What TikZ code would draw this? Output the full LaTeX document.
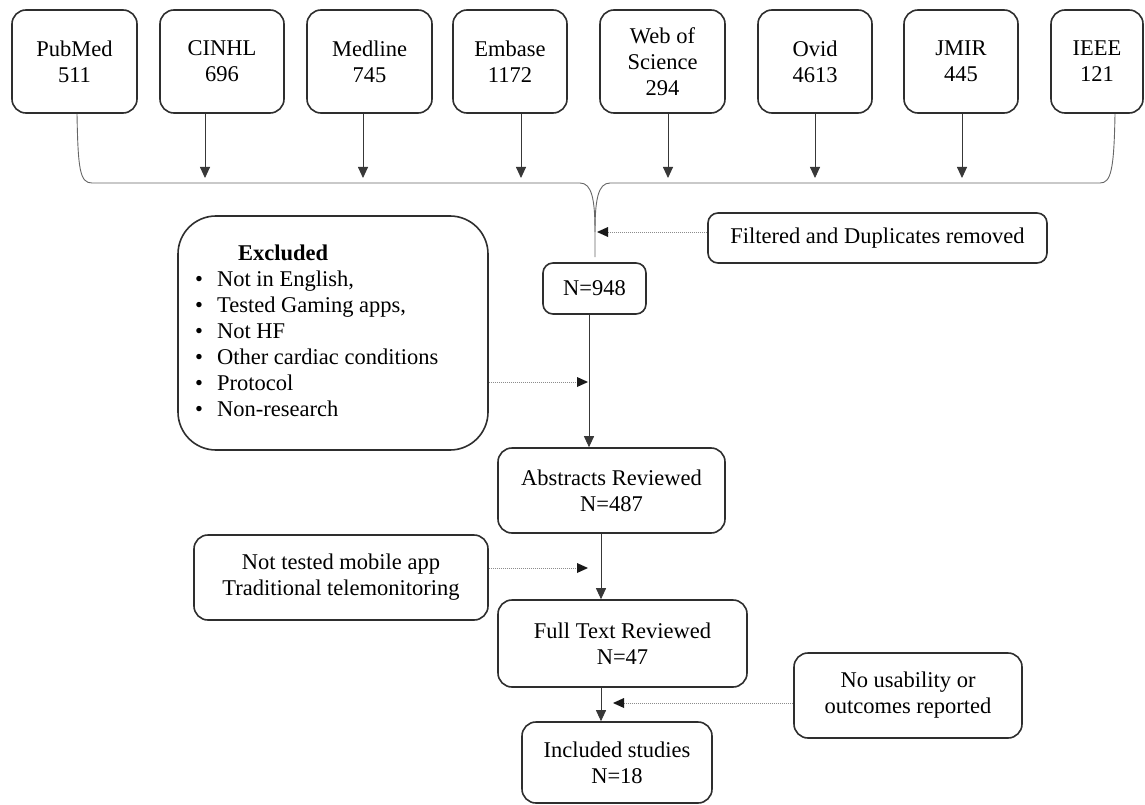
\documentclass[tikz,border=0pt]{standalone}
\usepackage{fontspec}
\setmainfont{Liberation Serif}
\usetikzlibrary{arrows.meta}
\tikzset{
  box/.style={draw=black!82, line width=1.6pt, rounded corners=14pt, align=center, inner sep=0pt, fill=white},
  conn/.style={draw=black!78, line width=0.9pt, -{Triangle[length=11pt,width=10pt]}},
  plain/.style={draw=black!60, line width=0.9pt},
  dot/.style={draw=black!45, line width=1pt, densely dotted, -{Triangle[length=11pt,width=10pt,color=black!90,fill=black!90,line width=0pt]}},
}
\begin{document}
\begin{tikzpicture}[x=1pt,y=-1pt, font=\fontsize{22.5}{26}\selectfont]
\useasboundingbox (0,0) rectangle (1145,805);
% top sources
\node[box, minimum width=125pt, minimum height=103pt] (pub) at (74.5,61.5) {PubMed\\511};
\node[box, minimum width=124pt, minimum height=103pt] (cin) at (222,61.5) {CINHL\\696};
\node[box, minimum width=125pt, minimum height=103pt] (med) at (369.5,61.5) {Medline\\745};
\node[box, minimum width=114pt, minimum height=103pt] (emb) at (510,61.5) {Embase\\1172};
\node[box, minimum width=125pt, minimum height=103pt] (wos) at (662.5,61.5) {Web of\\Science\\294};
\node[box, minimum width=114pt, minimum height=103pt] (ovi) at (815,61.5) {Ovid\\4613};
\node[box, minimum width=114pt, minimum height=103pt] (jmi) at (961,61.5) {JMIR\\445};
\node[box, minimum width=92pt, minimum height=103pt] (iee) at (1097,61.5) {IEEE\\121};
% arrow end points
\coordinate (a1) at (205,178);
\coordinate (a2) at (363,178);
\coordinate (a3) at (521,178);
\coordinate (a4) at (668,178);
\coordinate (a5) at (815,178);
\coordinate (a6) at (962,178);
\draw[conn] (cin.south -| a1) -- (a1);
\draw[conn] (med.south -| a2) -- (a2);
\draw[conn] (emb.south -| a3) -- (a3);
\draw[conn] (wos.south -| a4) -- (a4);
\draw[conn] (ovi.south -| a5) -- (a5);
\draw[conn] (jmi.south -| a6) -- (a6);
% brace
\coordinate (pl) at (77,0);
\coordinate (pr) at (1115,0);
\coordinate (tip) at (595,232);
\coordinate (bend) at (595,257);
\draw[plain] (pub.south -| pl) .. controls (78,170) and (80,183) .. (92,183) -- (580,183)
  .. controls (592,183) and (595,200) .. (tip);
\draw[plain] (iee.south -| pr) .. controls (1114,170) and (1111,183) .. (1100,183) -- (610,183)
  .. controls (598,183) and (595,200) .. (tip) -- (bend);
% middle column
\node[box, minimum width=339pt, minimum height=50pt, rounded corners=10pt] (fil) at (877.5,238) {Filtered and Duplicates removed};
\node[box, minimum width=103pt, minimum height=51pt, rounded corners=10pt] (n948) at (594.5,288.5) {N=948};
\node[box, minimum width=310pt, minimum height=234pt, rounded corners=38pt] (exc) at (333,333) {};
\node[anchor=west, inner sep=0pt, align=left] (exct) at (195,333) {%
  \begin{tabular}{@{}l@{\hspace{14pt}}l@{}}
   & \hspace*{21pt}\textbf{Excluded}\\
  \textbullet & Not in English,\\
  \textbullet & Tested Gaming apps,\\
  \textbullet & Not HF\\
  \textbullet & Other cardiac conditions\\
  \textbullet & Protocol\\
  \textbullet & Non-research
  \end{tabular}};
\node[box, minimum width=227pt, minimum height=85pt] (abs) at (611.5,490.5) {Abstracts Reviewed\\N=487};
\node[box, minimum width=294pt, minimum height=85pt] (not) at (341,577.5) {Not tested mobile app\\Traditional telemonitoring};
\node[box, minimum width=249pt, minimum height=87pt] (ful) at (622.5,643.5) {Full Text Reviewed\\N=47};
\node[box, minimum width=228pt, minimum height=85pt] (nou) at (908,695.5) {No usability or\\outcomes reported};
\node[box, minimum width=190pt, minimum height=81pt] (inc) at (617,762.5) {Included studies\\N=18};
% connectors
\coordinate (c1) at (589,0);
\coordinate (c2) at (601,0);
\draw[conn] (n948.south -| c1) -- (abs.north -| c1);
\draw[conn] (abs.south -| c2) -- (ful.north -| c2);
\draw[conn] (ful.south -| c2) -- (inc.north -| c2);
% dotted exclusions
\coordinate (d1) at (597,232);
\coordinate (d2) at (588,382);
\coordinate (d3) at (588,568);
\coordinate (d4) at (613,703);
\draw[dot] (fil.west |- d1) -- (d1);
\draw[dot] (exc.east |- d2) -- (d2);
\draw[dot] (not.east |- d3) -- (d3);
\draw[dot] (nou.west |- d4) -- (d4);
\end{tikzpicture}
\end{document}
